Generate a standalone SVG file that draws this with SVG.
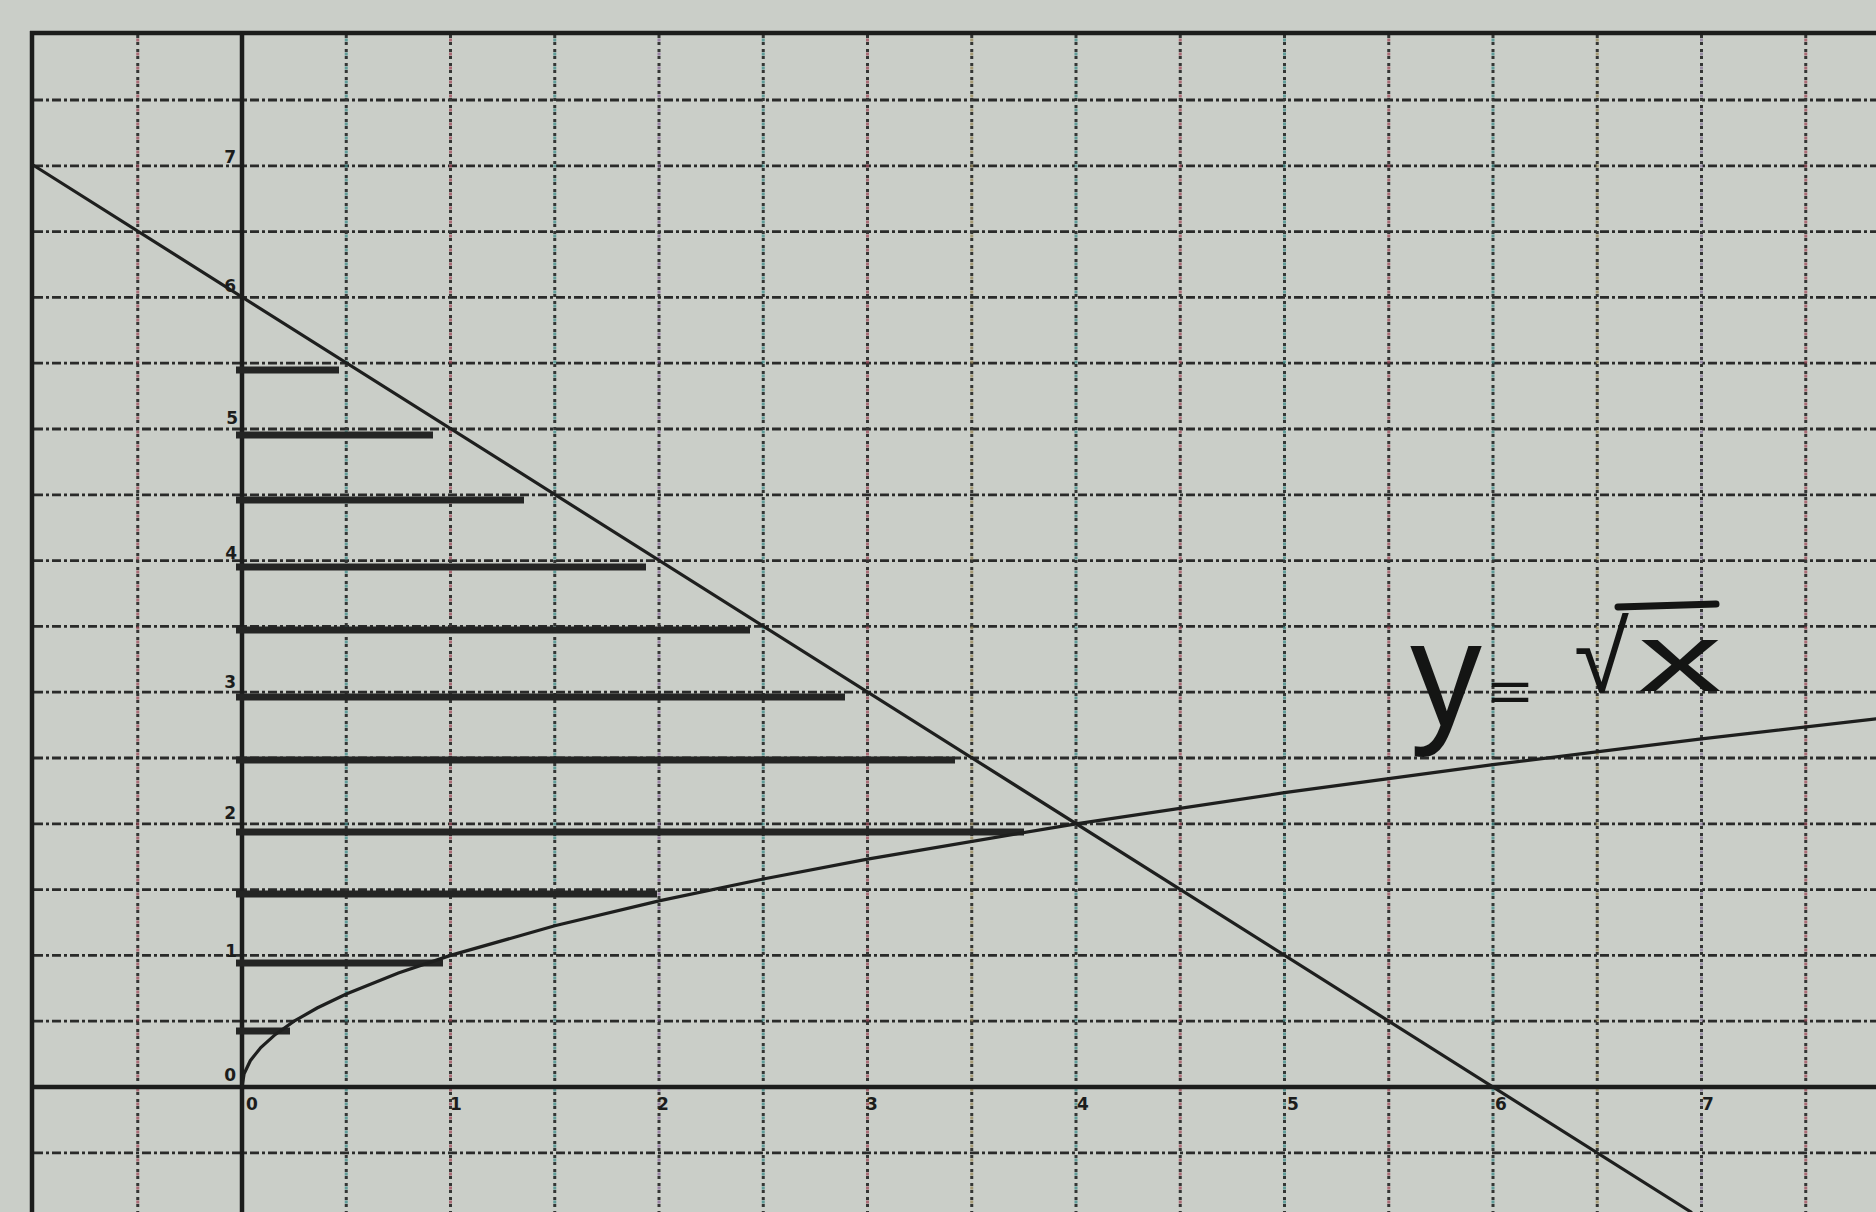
<svg xmlns="http://www.w3.org/2000/svg" width="1876" height="1212" viewBox="0 0 1876 1212">
<style>
.paper{fill:#cacec8}
.h{stroke:#2a2b2a;stroke-width:2.8;stroke-dasharray:9 3 3 3;fill:none}
.v{stroke:#343634;stroke-width:3;stroke-dasharray:3 4;fill:none}
.vc{stroke-width:3;stroke-dasharray:3 11;stroke-dashoffset:-3.5;fill:none;opacity:.75}
.solid{stroke:#1c1d1c;stroke-width:4.5;fill:none}
.plot{stroke:#1e1f1e;stroke-width:3.2;fill:none;stroke-linecap:round}
.bar{stroke:#242524;stroke-width:7;fill:none}
.lab{font-family:"DejaVu Sans",sans-serif;font-weight:bold;font-size:17px;fill:#1c1d1c}
.hand{font-family:"Liberation Sans",sans-serif;fill:#141514}
</style>
<rect class="paper" x="0" y="0" width="1876" height="1212"/>

<g id="grid-horizontal">
<line class="h" x1="34" y1="100" x2="1876" y2="100"/>
<line class="h" x1="34" y1="165.8" x2="1876" y2="165.8"/>
<line class="h" x1="34" y1="231.6" x2="1876" y2="231.6"/>
<line class="h" x1="34" y1="297.4" x2="1876" y2="297.4"/>
<line class="h" x1="34" y1="363.2" x2="1876" y2="363.2"/>
<line class="h" x1="34" y1="429" x2="1876" y2="429"/>
<line class="h" x1="34" y1="494.8" x2="1876" y2="494.8"/>
<line class="h" x1="34" y1="560.6" x2="1876" y2="560.6"/>
<line class="h" x1="34" y1="626.4" x2="1876" y2="626.4"/>
<line class="h" x1="34" y1="692.2" x2="1876" y2="692.2"/>
<line class="h" x1="34" y1="758" x2="1876" y2="758"/>
<line class="h" x1="34" y1="823.8" x2="1876" y2="823.8"/>
<line class="h" x1="34" y1="889.6" x2="1876" y2="889.6"/>
<line class="h" x1="34" y1="955.4" x2="1876" y2="955.4"/>
<line class="h" x1="34" y1="1021.2" x2="1876" y2="1021.2"/>
<line class="h" x1="34" y1="1152.8" x2="1876" y2="1152.8"/>
</g>

<g id="grid-vertical">
<line class="v" x1="137.75" y1="35" x2="137.75" y2="1212"/>
<line class="v" x1="346.25" y1="35" x2="346.25" y2="1212"/>
<line class="v" x1="450.5" y1="35" x2="450.5" y2="1212"/>
<line class="v" x1="554.75" y1="35" x2="554.75" y2="1212"/>
<line class="v" x1="659" y1="35" x2="659" y2="1212"/>
<line class="v" x1="763.25" y1="35" x2="763.25" y2="1212"/>
<line class="v" x1="867.5" y1="35" x2="867.5" y2="1212"/>
<line class="v" x1="971.75" y1="35" x2="971.75" y2="1212"/>
<line class="v" x1="1076" y1="35" x2="1076" y2="1212"/>
<line class="v" x1="1180.25" y1="35" x2="1180.25" y2="1212"/>
<line class="v" x1="1284.5" y1="35" x2="1284.5" y2="1212"/>
<line class="v" x1="1388.75" y1="35" x2="1388.75" y2="1212"/>
<line class="v" x1="1493" y1="35" x2="1493" y2="1212"/>
<line class="v" x1="1597.25" y1="35" x2="1597.25" y2="1212"/>
<line class="v" x1="1701.5" y1="35" x2="1701.5" y2="1212"/>
<line class="v" x1="1805.75" y1="35" x2="1805.75" y2="1212"/>
</g>
<g id="grid-vertical-colour">
<line class="vc" stroke="#a04a5a" x1="137.75" y1="35" x2="137.75" y2="1212"/>
<line class="vc" stroke="#3c8c8a" x1="346.25" y1="35" x2="346.25" y2="1212"/>
<line class="vc" stroke="#a04a5a" x1="450.5" y1="35" x2="450.5" y2="1212"/>
<line class="vc" stroke="#3c8c8a" x1="554.75" y1="35" x2="554.75" y2="1212"/>
<line class="vc" stroke="#8a6a9a" x1="659" y1="35" x2="659" y2="1212"/>
<line class="vc" stroke="#3c8c8a" x1="763.25" y1="35" x2="763.25" y2="1212"/>
<line class="vc" stroke="#a04a5a" x1="867.5" y1="35" x2="867.5" y2="1212"/>
<line class="vc" stroke="#9a8a5a" x1="971.75" y1="35" x2="971.75" y2="1212"/>
<line class="vc" stroke="#3c8c8a" x1="1076" y1="35" x2="1076" y2="1212"/>
<line class="vc" stroke="#a04a5a" x1="1180.25" y1="35" x2="1180.25" y2="1212"/>
<line class="vc" stroke="#3c8c8a" x1="1284.5" y1="35" x2="1284.5" y2="1212"/>
<line class="vc" stroke="#a04a5a" x1="1388.75" y1="35" x2="1388.75" y2="1212"/>
<line class="vc" stroke="#3c8c8a" x1="1493" y1="35" x2="1493" y2="1212"/>
<line class="vc" stroke="#9a8a5a" x1="1597.25" y1="35" x2="1597.25" y2="1212"/>
<line class="vc" stroke="#8a7a9a" x1="1701.5" y1="35" x2="1701.5" y2="1212"/>
<line class="vc" stroke="#a04a5a" x1="1805.75" y1="35" x2="1805.75" y2="1212"/>
</g>

<g id="frame-and-axes">
<line class="solid" x1="30" y1="33" x2="1876" y2="33"/>
<line class="solid" x1="32" y1="31" x2="32" y2="1212"/>
<line class="solid" x1="32" y1="1087" x2="1876" y2="1087"/>
<line class="solid" x1="242" y1="33" x2="242" y2="1212"/>
</g>

<g id="axis-labels">
<text class="lab" x="236" y="163" text-anchor="end">7</text>
<text class="lab" x="236" y="292" text-anchor="end">6</text>
<text class="lab" x="238" y="424" text-anchor="end">5</text>
<text class="lab" x="237" y="559" text-anchor="end">4</text>
<text class="lab" x="236" y="688" text-anchor="end">3</text>
<text class="lab" x="236" y="819" text-anchor="end">2</text>
<text class="lab" x="237" y="957" text-anchor="end">1</text>
<text class="lab" x="236" y="1081" text-anchor="end">0</text>
<text class="lab" x="246" y="1110">0</text>
<text class="lab" x="450" y="1110">1</text>
<text class="lab" x="657" y="1110">2</text>
<text class="lab" x="866" y="1110">3</text>
<text class="lab" x="1077" y="1110">4</text>
<text class="lab" x="1287" y="1110">5</text>
<text class="lab" x="1495" y="1110">6</text>
<text class="lab" x="1702" y="1110">7</text>
</g>

<g id="bars">
<line class="bar" x1="236" y1="1031" x2="290" y2="1031"/>
<line class="bar" x1="236" y1="963" x2="443" y2="963"/>
<line class="bar" x1="236" y1="894" x2="657" y2="894"/>
<line class="bar" x1="236" y1="832" x2="1024" y2="832"/>
<line class="bar" x1="236" y1="760" x2="955" y2="760"/>
<line class="bar" x1="236" y1="697" x2="845" y2="697"/>
<line class="bar" x1="236" y1="630" x2="750" y2="630"/>
<line class="bar" x1="236" y1="567" x2="646" y2="567"/>
<line class="bar" x1="236" y1="500" x2="524" y2="500"/>
<line class="bar" x1="236" y1="435" x2="433" y2="435"/>
<line class="bar" x1="236" y1="370" x2="339" y2="370"/>
</g>

<g id="curves">
<path id="sqrt-curve" class="plot" d="M242,1087 L244.1,1073.8 L250.3,1060.7 L260.8,1047.5 L275.4,1034.4 L294.1,1021.2 L317.1,1008 L346.3,994 L398.4,973 L450.5,955.4 L554.8,925.8 L659,900.9 L763.3,879 L867.5,859.1 L1076,823.8 L1284.5,792.7 L1493,764.6 L1701.5,738.8 L1876,718.8"/>
<line id="line-6-minus-x" class="plot" x1="33" y1="165" x2="1691" y2="1212"/>
</g>

<g id="annotation">
<text class="hand" x="1410" y="726" font-size="150" textLength="72" lengthAdjust="spacingAndGlyphs">y</text>
<text class="hand" x="1488" y="712" font-size="60" textLength="44" lengthAdjust="spacingAndGlyphs">=</text>
<text class="hand" x="1574" y="692" font-size="100">√</text>
<text class="hand" x="1638" y="691" font-size="96" textLength="84" lengthAdjust="spacingAndGlyphs">x</text>
<line x1="1618" y1="607" x2="1716" y2="604" stroke="#141514" stroke-width="7" stroke-linecap="round"/>
</g>
</svg>
